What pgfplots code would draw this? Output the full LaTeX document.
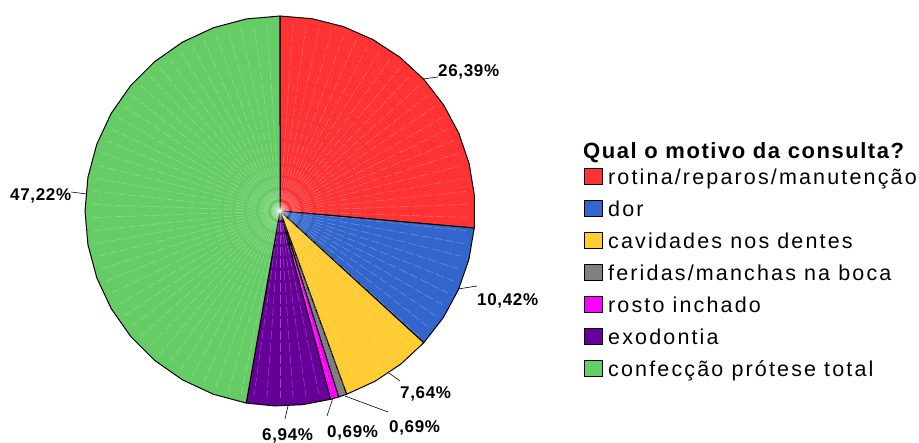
\documentclass[border=0pt]{standalone}
\usepackage{pgfplots}
\pgfplotsset{compat=1.18}
\usepackage{fontspec}
\setmainfont{Liberation Sans}
\newfontfamily\legfont[LetterSpace=10]{Liberation Sans}
\newfontfamily\titfont[LetterSpace=7]{Liberation Sans}
\newfontfamily\pctfont[LetterSpace=4]{Liberation Sans}
\definecolor{cRed}{HTML}{FF3333}
\definecolor{cBlue}{HTML}{3366CC}
\definecolor{cYellow}{HTML}{FFCC33}
\definecolor{cGray}{HTML}{808080}
\definecolor{cMag}{HTML}{FF00FF}
\definecolor{cPurple}{HTML}{660099}
\definecolor{cGreen}{HTML}{66CC66}
\newcommand{\pct}{\pctfont\bfseries\fontsize{17}{20}\selectfont}
\newcommand{\leg}{\legfont\fontsize{21.5}{24}\selectfont}
\newcommand{\tit}{\titfont\bfseries\fontsize{22}{24}\selectfont}
\begin{document}
\begin{tikzpicture}
\begin{axis}[width=919pt,height=441pt,scale only axis,
  xmin=0,xmax=919,ymin=0,ymax=441,y dir=reverse,hide axis,clip=false]
\addplot[draw=none] coordinates {(0,0) (919,441)};
% slices: percentages 26.39, 10.42, 7.64, 0.69, 0.69, 6.94, 47.22 (clockwise from top)
\addplot[fill=cRed,draw=black,line width=1pt,variable=\t,domain=90:-5.004,samples=11]
  ({280+195*cos(t)},{211-195*sin(t)}) -- (280,211) -- cycle;
\addplot[fill=cBlue,draw=black,line width=1pt,variable=\t,domain=-5.004:-42.516,samples=5]
  ({280+195*cos(t)},{211-195*sin(t)}) -- (280,211) -- cycle;
\addplot[fill=cYellow,draw=black,line width=1pt,variable=\t,domain=-42.516:-70.02,samples=4]
  ({280+195*cos(t)},{211-195*sin(t)}) -- (280,211) -- cycle;
\addplot[fill=cGray,draw=black,line width=1pt,variable=\t,domain=-70.02:-72.504,samples=2]
  ({280+195*cos(t)},{211-195*sin(t)}) -- (280,211) -- cycle;
\addplot[fill=cMag,draw=black,line width=1pt,variable=\t,domain=-72.504:-74.988,samples=2]
  ({280+195*cos(t)},{211-195*sin(t)}) -- (280,211) -- cycle;
\addplot[fill=cPurple,draw=black,line width=1pt,variable=\t,domain=-74.988:-99.972,samples=4]
  ({280+195*cos(t)},{211-195*sin(t)}) -- (280,211) -- cycle;
\addplot[fill=cGreen,draw=black,line width=1pt,variable=\t,domain=-99.972:-270,samples=18]
  ({280+195*cos(t)},{211-195*sin(t)}) -- (280,211) -- cycle;
% faint radial lines
\pgfplotsinvokeforeach{1,...,89}{
  \draw[white,opacity=0.3,line width=0.5pt,dash pattern=on 9pt off 3pt]
    (280,211) -- ({280+187*cos(90-4*#1)},{211-187*sin(90-4*#1)});
}
% leader lines
\draw[black,line width=0.6pt] (423,79) -- (438,77);
\draw[black,line width=0.6pt] (458,289) -- (477,286);
\draw[black,line width=0.6pt] (389,373) -- (400,381);
\draw[black,line width=0.6pt] (345,396) -- (388,412);
\draw[black,line width=0.6pt] (333,398) -- (327,416);
\draw[black,line width=0.6pt] (288,406) -- (285,419);
\draw[black,line width=0.6pt] (71,192) -- (87,194);
% labels
\node[anchor=base west,inner sep=0] at (438,76) {\pct 26,39\%};
\node[anchor=base west,inner sep=0] at (477,305) {\pct 10,42\%};
\node[anchor=base west,inner sep=0] at (400,398) {\pct 7,64\%};
\node[anchor=base west,inner sep=0] at (389,432) {\pct 0,69\%};
\node[anchor=base west,inner sep=0] at (327,437) {\pct 0,69\%};
\node[anchor=base west,inner sep=0] at (262,440) {\pct 6,94\%};
\node[anchor=base west,inner sep=0] at (10,200) {\pct 47,22\%};
% legend
\node[anchor=base west,inner sep=0] at (583,158) {\tit Qual o motivo da consulta?};
\draw[fill=cRed,line width=0.8pt]    (584,168) rectangle (602,184.5);
\draw[fill=cBlue,line width=0.8pt]   (584,200) rectangle (602,216.5);
\draw[fill=cYellow,line width=0.8pt] (584,232) rectangle (602,248.5);
\draw[fill=cGray,line width=0.8pt]   (584,264) rectangle (602,280.5);
\draw[fill=cMag,line width=0.8pt]    (584,296) rectangle (602,312.5);
\draw[fill=cPurple,line width=0.8pt] (584,328) rectangle (602,344.5);
\draw[fill=cGreen,line width=0.8pt]  (584,360) rectangle (602,376.5);
\node[anchor=base west,inner sep=0] at (608,184.5) {\leg rotina/reparos/manutenção};
\node[anchor=base west,inner sep=0] at (608,216.5) {\leg dor};
\node[anchor=base west,inner sep=0] at (608,248.5) {\leg cavidades nos dentes};
\node[anchor=base west,inner sep=0] at (608,280.5) {\leg feridas/manchas na boca};
\node[anchor=base west,inner sep=0] at (608,312.5) {\leg rosto inchado};
\node[anchor=base west,inner sep=0] at (608,344.5) {\leg exodontia};
\node[anchor=base west,inner sep=0] at (608,376.5) {\leg confecção prótese total};
\end{axis}
\end{tikzpicture}
\end{document}
